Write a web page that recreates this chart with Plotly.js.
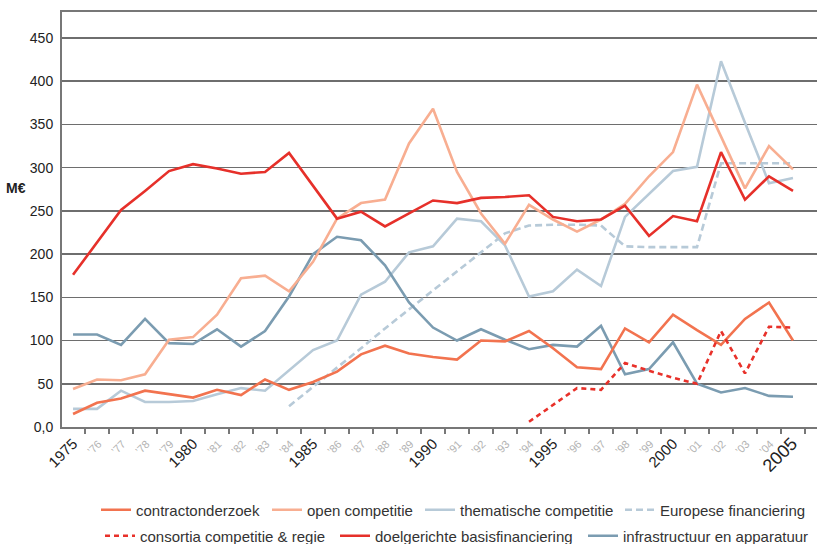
<!DOCTYPE html>
<html><head><meta charset="utf-8">
<script src="https://cdn.plot.ly/plotly-3.0.1.min.js"></script>
<style>html,body{margin:0;padding:0;background:#fff}</style>
</head><body><div id="chart" style="width:817px;height:544px"></div>
<script>
// ---- data (M€) ----
const years = [1975,1976,1977,1978,1979,1980,1981,1982,1983,1984,1985,1986,1987,1988,1989,1990,1991,1992,1993,1994,1995,1996,1997,1998,1999,2000,2001,2002,2003,2004,2005];
const yearLabels = ['1975','’76','’77','’78','’79','1980','’81','’82','’83','’84','1985','’86','’87','’88','’89','1990','’91','’92','’93','’94','1995','’96','’97','’98','’99','2000','’01','’02','’03','’04','2005'];
const yTickValues = [0,50,100,150,200,250,300,350,400,450];
const yTickLabels = ['0,0','50','100','150','200','250','300','350','400','450'];

const contractonderzoek = [15,28,33,42,38,34,43,37,55,43,52,64,84,94,85,81,78,100,99,111,91,69,67,114,98,130,112,95,125,144,100];
const openCompetitie = [44,55,54,61,101,104,130,172,175,157,191,241,259,263,328,368,295,247,212,257,240,226,240,258,290,318,396,336,276,325,298];
const thematischeCompetitie = [21,21,42,29,29,30,38,45,42,66,89,100,153,168,202,209,241,238,210,151,157,182,163,243,270,296,301,423,352,282,288];
const europeseFinanciering = [null,null,null,null,null,null,null,null,null,24,46,69,91,114,136,158,181,203,224,233,234,234,233,209,208,208,208,305,305,305,305];
const consortiaCompetitieRegie = [null,null,null,null,null,null,null,null,null,null,null,null,null,null,null,null,null,null,null,6,25,45,43,74,65,57,50,111,62,116,115];
const doelgerichteBasisfin = [176,213,251,273,296,304,299,293,295,317,279,241,249,232,247,262,259,265,266,268,243,238,240,256,221,244,238,318,263,290,273];
const infrastructuur = [107,107,95,125,97,96,113,93,111,151,200,220,216,187,144,115,100,113,101,90,95,93,117,61,67,98,50,40,45,36,35];

const names = ['contractonderzoek','open competitie','thematische competitie','Europese financiering','consortia competitie &amp; regie','doelgerichte basisfinanciering','infrastructuur en apparatuur'];

// ---- styling ----
const W = 817, H = 544;
const FONT = 'Liberation Sans, Arial, sans-serif';
const tickText = yearLabels.map(l => {
  if (l.charAt(0) === '’') return '<span style="font-size:11px;color:#b3b3b3">' + l + '</span>';
  if (l === '2005') return '<span style="font-size:18px;color:#222">' + l + '</span>';
  return '<span style="font-size:15px;color:#222">' + l + '</span>';
});

function mk(y, name, color, dash, leg) {
  return {x: years, y: y, name: name, type: 'scatter', mode: 'lines', connectgaps: false,
    line: {color: color, width: 2.6, dash: dash}, legend: leg, hoverinfo: 'skip'};
}
const traces = [
  mk(europeseFinanciering, names[3], '#b7cad8', '7px,4px', 'legend4'),
  mk(thematischeCompetitie, names[2], '#b7cad8', 'solid', 'legend3'),
  mk(infrastructuur, names[6], '#7b9cb1', 'solid', 'legend7'),
  mk(openCompetitie, names[1], '#f8ae91', 'solid', 'legend2'),
  mk(contractonderzoek, names[0], '#f2734f', 'solid', 'legend'),
  mk(consortiaCompetitieRegie, names[4], '#e8312a', '5px,4px', 'legend5'),
  mk(doelgerichteBasisfin, names[5], '#e6302a', 'solid', 'legend6')
];

function leg(textX, rowY) {
  return {x: (textX - 40) / W, xref: 'container', xanchor: 'left',
    y: 1 - rowY / H, yref: 'container', yanchor: 'middle',
    orientation: 'h', bgcolor: 'rgba(0,0,0,0)', borderwidth: 0,
    font: {family: FONT, size: 15, color: '#333'}, itemclick: false};
}

const layout = {
  width: W, height: H,
  margin: {l: 62, r: 0, t: 12, b: 117},
  paper_bgcolor: '#fff', plot_bgcolor: '#fff',
  font: {family: FONT, color: '#222'},
  xaxis: {range: [1974.54, 2006], tickmode: 'array', tickvals: years, ticktext: tickText,
    tickangle: -45, ticks: '', showgrid: false, zeroline: false,
    showline: true, linecolor: '#777', linewidth: 2, mirror: true,
    tickfont: {family: FONT, size: 15, color: '#222'},
    minor: {tick0: 1974.5, dtick: 1, ticks: 'outside', ticklen: 5, tickwidth: 1.5, tickcolor: '#777', showgrid: false}},
  yaxis: {range: [0, 480], tickmode: 'array', tickvals: yTickValues, ticktext: yTickLabels,
    showgrid: true, gridcolor: '#6e6e6e', gridwidth: 1.5, zeroline: false,
    showline: true, linecolor: '#777', linewidth: 2, ticks: '', ticklabelstandoff: 4,
    tickfont: {family: FONT, size: 14, color: '#222'}},
  annotations: [{text: '<b>M€</b>', xref: 'paper', yref: 'paper', x: (28 - 62) / 755, y: (427 - 188) / 415,
    xanchor: 'right', yanchor: 'middle', showarrow: false,
    font: {family: FONT, size: 14, color: '#222'}}],
  showlegend: true,
  legend: leg(136, 510),
  legend2: leg(307, 510),
  legend3: leg(460, 510),
  legend4: leg(660, 510),
  legend5: leg(140, 536),
  legend6: leg(375, 536),
  legend7: leg(623, 536)
};

Plotly.newPlot('chart', traces, layout, {displayModeBar: false, staticPlot: true});
</script>
</body></html>
